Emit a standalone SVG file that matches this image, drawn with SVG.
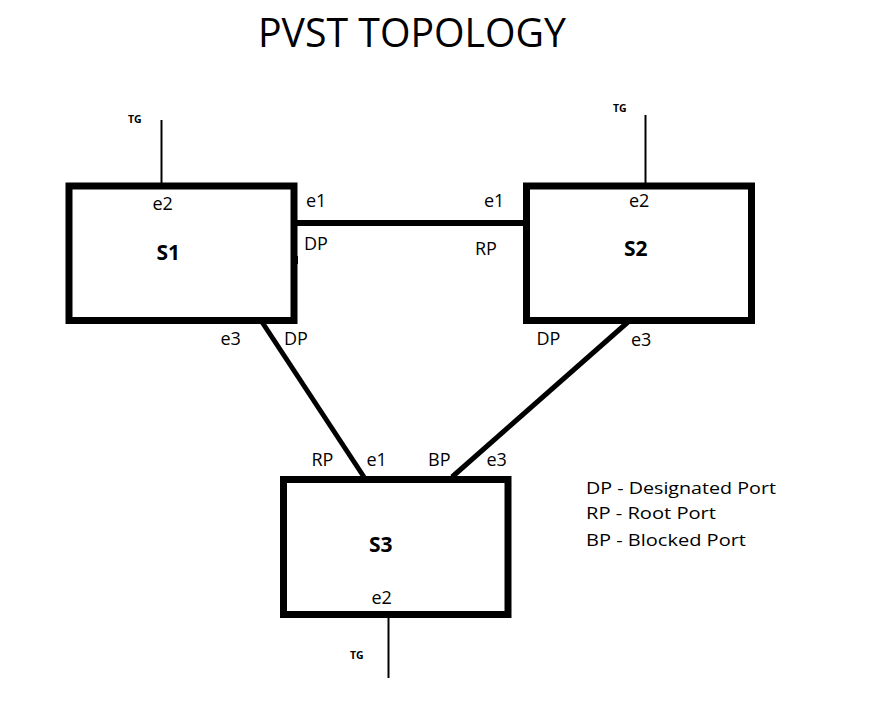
<svg xmlns="http://www.w3.org/2000/svg" width="892" height="725" viewBox="0 0 892 725">
<style>
  text { font-family: "Open Sans", "Liberation Sans", sans-serif; fill: #000; }
  .box { fill: #fff; stroke: #000; stroke-width: 7; }
  .lbl { font-size: 18px; }
  .name { font-size: 21px; font-weight: bold; }
  .tg { font-size: 10.5px; font-weight: bold; }
  .leg { font-size: 16.5px; }
  .tgline { stroke: #000; stroke-width: 2; }
  .link { stroke: #000; stroke-width: 5; fill: none; }
</style>
<rect width="892" height="725" fill="#fff"/>
<text x="258" y="47" font-size="40" textLength="308" lengthAdjust="spacingAndGlyphs">PVST TOPOLOGY</text>

<g id="connectors">
  <line class="link" x1="297" y1="223" x2="527" y2="223" style="stroke-width:6"/>
  <line class="link" x1="262" y1="322" x2="364" y2="477"/>
  <line class="link" x1="628" y1="322" x2="452" y2="477"/>
  <line class="tgline" x1="161.5" y1="120" x2="161.5" y2="183"/>
  <line class="tgline" x1="645.5" y1="115" x2="645.5" y2="183"/>
  <line class="tgline" x1="388.5" y1="617" x2="388.5" y2="678"/>
</g>

<g id="S1">
  <rect class="box" x="69" y="186" width="225" height="134.5"/>
  <rect x="294" y="256" width="4" height="8" fill="#000"/>
  <text class="tg" x="128" y="123">TG</text>
  <text class="lbl" x="152.5" y="210">e2</text>
  <text class="name" x="156.5" y="260">S1</text>
  <text class="lbl" x="306" y="207">e1</text>
  <text class="lbl" x="304" y="250">DP</text>
  <text class="lbl" x="220.5" y="345">e3</text>
  <text class="lbl" x="284" y="345">DP</text>
</g>

<g id="S2">
  <rect class="box" x="526.5" y="186" width="225" height="134.5"/>
  <rect x="523" y="256" width="4" height="8" fill="#000"/>
  <text class="tg" x="613" y="112">TG</text>
  <text class="lbl" x="629" y="207">e2</text>
  <text class="name" x="624" y="256">S2</text>
  <text class="lbl" x="484" y="207">e1</text>
  <text class="lbl" x="475" y="255">RP</text>
  <text class="lbl" x="536.5" y="345">DP</text>
  <text class="lbl" x="631" y="346">e3</text>
</g>

<g id="S3">
  <rect class="box" x="283.5" y="479.5" width="224.5" height="135"/>
  <text class="tg" x="350" y="659">TG</text>
  <text class="lbl" x="371.5" y="604">e2</text>
  <text class="name" x="369" y="552">S3</text>
  <text class="lbl" x="311.5" y="466">RP</text>
  <text class="lbl" x="366.5" y="466">e1</text>
  <text class="lbl" x="428" y="466">BP</text>
  <text class="lbl" x="486.5" y="466">e3</text>
</g>

<g id="legend">
  <text class="leg" x="586" y="494" textLength="190" lengthAdjust="spacingAndGlyphs">DP - Designated Port</text>
  <text class="leg" x="586" y="519" textLength="130" lengthAdjust="spacingAndGlyphs">RP - Root Port</text>
  <text class="leg" x="586" y="546" textLength="160" lengthAdjust="spacingAndGlyphs">BP - Blocked Port</text>
</g>
</svg>
